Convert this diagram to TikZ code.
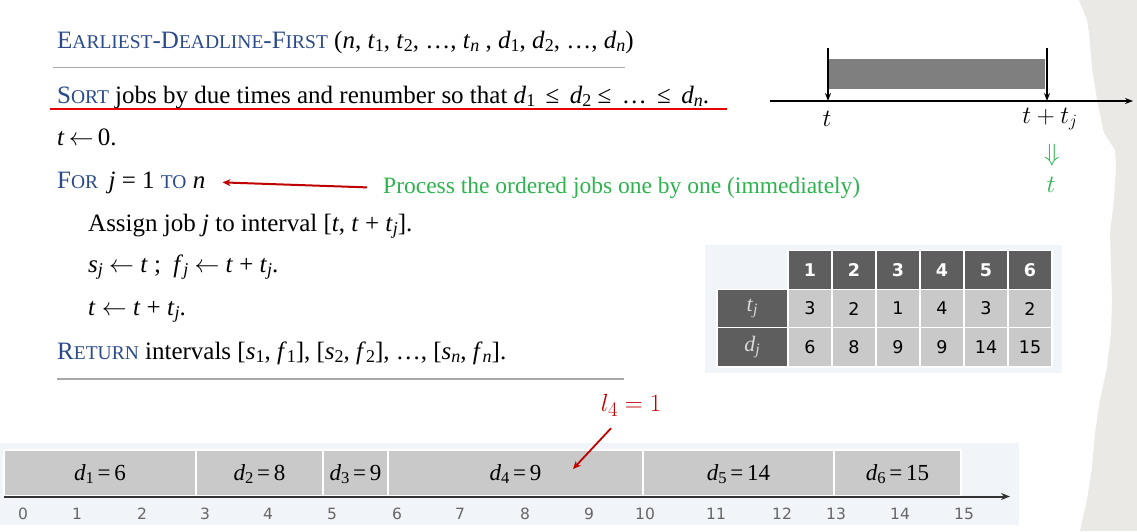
\documentclass[tikz,border=0pt]{standalone}
\usepackage{fontspec}
\usepackage{graphicx}
\setmainfont{Liberation Serif}
\newfontfamily\tabfont{DejaVu Sans}
\usetikzlibrary{arrows.meta}
\definecolor{kwblue}{HTML}{2B4A8B}
\definecolor{procgreen}{HTML}{2EB34F}
\definecolor{darkred}{HTML}{C00000}
\definecolor{ulred}{HTML}{E80000}
\definecolor{paper}{HTML}{EAE9E6}
\definecolor{panelbg}{HTML}{F1F4F8}
\definecolor{celldark}{HTML}{5E5E5E}
\definecolor{celllight}{HTML}{C9C9C9}
\definecolor{barfill}{HTML}{7F7F7F}
\definecolor{ticklab}{HTML}{666666}
\definecolor{rulegray}{HTML}{A8A8A8}
\newcommand\fsc[2]{#1\scalebox{0.78}{#2}}
\newcommand\sbs[1]{\raisebox{-0.3ex}{\scalebox{0.72}{#1}}}
\newcommand\ti[1]{\textit{#1}}
\newcommand\la{\ensuremath{\leftarrow}}
\tikzset{
  algo/.style={anchor=base west, inner sep=0pt, font=\fontsize{25}{30}\selectfont},
  cellD/.style={fill=celldark, draw=white, line width=1.5pt},
  cellL/.style={fill=celllight, draw=white, line width=1.5pt},
  hdr/.style={font=\tabfont\bfseries\fontsize{17.5}{20}\selectfont, text=white, inner sep=0pt},
  val/.style={font=\tabfont\fontsize{17.5}{20}\selectfont, text=black, inner sep=0pt},
  rowlab/.style={font=\fontsize{22}{24}\selectfont, text=celllight!70!white, inner sep=0pt},
  jobbox/.style={fill=celllight, draw=white, line width=1.5pt},
  joblab/.style={font=\fontsize{23}{26}\selectfont, inner sep=0pt},
  tick/.style={font=\tabfont\fontsize{15.5}{18}\selectfont, text=ticklab, inner sep=0pt},
  mathlab/.style={font=\fontsize{24}{28}\selectfont, inner sep=0pt},
  redarrow/.style={draw=darkred, line width=2pt, -{Stealth[length=8pt,width=7pt]}},
  blackarrow/.style={draw=black, line width=1.8pt, -{Stealth[length=8pt,width=6pt]}},
}
\begin{document}
\begin{tikzpicture}[x=1pt,y=-1pt]
\useasboundingbox (0,0) rectangle (1137,531);
\fill[white] (0,0) rectangle (1137,531);
% paper edge on the right
\fill[paper] (1079,0) -- (1087,20) -- (1089,33) -- (1092,67) -- (1097,100) -- (1104,133)
  -- (1115,150) -- (1116,167) -- (1114,200) -- (1110,233) -- (1111,267) -- (1112,300)
  -- (1111,333) -- (1107,367) -- (1100,400) -- (1095,433) -- (1092,467) -- (1087,500)
  -- (1080,531) -- (1137,531) -- (1137,0) -- cycle;

% ---------- algorithm ----------
\node[algo] (title) at (57,48) {\textcolor{kwblue}{\fsc{E}{ARLIEST}-\fsc{D}{EADLINE}-\fsc{F}{IRST}} (\ti{n}, \ti{t}\sbs{1}, \ti{t}\sbs{2}, …, \ti{t}\sbs{\ti{n}} , \ti{d}\sbs{1}, \ti{d}\sbs{2}, …, \ti{d}\sbs{\ti{n}})};
\draw[rulegray, line width=1.5pt] (53,67.5) -- (625,67.5);
\node[algo] (sort) at (57,103) {\textcolor{kwblue}{\fsc{S}{ORT}} jobs by due times and renumber so that \ti{d}\sbs{1} \,≤\, \ti{d}\sbs{2} ≤ \,…\, ≤ \,\ti{d}\sbs{\ti{n}}.};
\draw[ulred, line width=2pt] (50,109) -- (727,109);
\node[algo] (tzero) at (57,145) {\ti{t}\,\la\,0.};
\node[algo] (forl) at (57,188) {\textcolor{kwblue}{\fsc{F}{OR}} \,\ti{j} = 1 \textcolor{kwblue}{\scalebox{0.78}{TO}} \ti{n}};
\node[anchor=base west, inner sep=0pt, text=procgreen, font=\fontsize{23.5}{26}\selectfont] (proc) at (383,193) {Process the ordered jobs one by one (immediately)};
\draw[redarrow] ([xshift=-16pt]proc.west) -- ([xshift=17pt]forl.east);
\node[algo] (assign) at (88,231) {Assign job \ti{j} to interval [\ti{t}, \ti{t} + \ti{t}\sbs{\ti{j}}].};
\node[algo] (sf) at (88,272) {\ti{s}\sbs{\ti{j}} \la\ \ti{t} ; \ \ti{f}\sbs{\ti{j}} \la\ \ti{t} + \ti{t}\sbs{\ti{j}}.};
\node[algo] (tupd) at (88,315) {\ti{t} \la\ \ti{t} + \ti{t}\sbs{\ti{j}}.};
\node[algo] (ret) at (57,359) {\textcolor{kwblue}{\fsc{R}{ETURN}} intervals [\ti{s}\sbs{1}, \ti{f}\sbs{1}], [\ti{s}\sbs{2}, \ti{f}\sbs{2}], …, [\ti{s}\sbs{\ti{n}}, \ti{f}\sbs{\ti{n}}].};
\draw[rulegray, line width=1.5pt] (57,379) -- (624,379);

% ---------- interval diagram ----------
\coordinate (axL) at (770,101);
\coordinate (axR) at (1133,101);
\fill[barfill] (829,59) rectangle (1045,89);
\draw[blackarrow] (axL) -- (axR);
\coordinate (s0) at (828,48);
\coordinate (s1) at (828,101);
\coordinate (f0) at (1047,48);
\coordinate (f1) at (1047,101);
\draw[blackarrow] (s0) -- (s1);
\draw[blackarrow] (f0) -- (f1);
\node[mathlab] (tlab) at (827,119) {$t$};
\node[mathlab] (ttlab) at (1050,119) {$t+t_j$};
\node[mathlab, text=procgreen] (dn) at (1052,155) {$\Downarrow$};
\node[mathlab, text=procgreen] (tnew) at (1051,185) {$t$};

% ---------- table ----------
\fill[panelbg] (705,245) rectangle (1062,373);
\foreach \i/\xa/\xb/\tv/\dv in {1/788/832/3/6, 2/832/876/2/8, 3/876/920/1/9, 4/920/964/4/9, 5/964/1008/3/14, 6/1008/1052/2/15}{
  \draw[cellD] (\xa,250.5) rectangle (\xb,289.5);
  \node[hdr] (h\i) at ({(\xa+\xb)/2},270) {\i};
  \draw[cellL] (\xa,289.5) rectangle (\xb,327.5);
  \node[val] (t\i) at ({(\xa+\xb)/2},308.5) {\tv};
  \draw[cellL] (\xa,327.5) rectangle (\xb,367);
  \node[val] (d\i) at ({(\xa+\xb)/2},347) {\dv};
}
\draw[cellD] (717,289.5) rectangle (788,327.5);
\draw[cellD] (717,327.5) rectangle (788,367);
\node[rowlab] (tj) at (752,308) {\ti{t}\sbs{\ti{j}}};
\node[rowlab] (dj) at (752,347) {\ti{d}\sbs{\ti{j}}};

% ---------- timeline ----------
\fill[panelbg] (0,443) rectangle (1019,525);
\foreach \n/\xa/\xb/\lab in {1/4/196/6, 2/196/323/8, 3/323/388/9, 4/388/643/9, 5/643/834/14, 6/834/961/15}{
  \draw[jobbox] (\xa,450) rectangle (\xb,495.5);
  \node[joblab] (job\n) at ({(\xa+\xb)/2},474) {\ti{d}\sbs{\n}\,=\,\lab};
}
\coordinate (tl0) at (4,496.5);
\coordinate (tl1) at (1010,496.5);
\draw[draw=black!80, line width=2pt, -{Stealth[length=9pt,width=7pt]}] (tl0) -- (tl1);
\foreach \v/\xx in {0/23,1/77,2/142,3/205,4/268,5/332,6/397,7/460,8/525,9/589,10/645,11/716,12/782,13/836,14/900,15/964}{
  \node[tick] (tk\v) at (\xx,514) {\v};
}
\node[mathlab, text=darkred, font=\fontsize{28}{32}\selectfont] (lfour) at (631,405) {$l_4=1$};
\coordinate (ltip) at (573,469);
\draw[redarrow, line width=1.8pt] ([xshift=-20pt,yshift=-12pt]lfour.south) -- (ltip);
\end{tikzpicture}
\end{document}
